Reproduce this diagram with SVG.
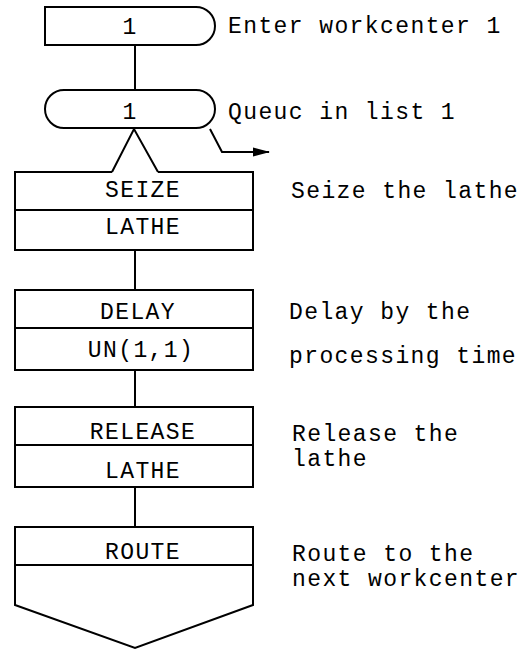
<svg xmlns="http://www.w3.org/2000/svg" width="528" height="650" viewBox="0 0 528 650">
<style>
.s{fill:none;stroke:#000;stroke-width:2;stroke-linejoin:miter}
.b{fill:#fff;stroke:#000;stroke-width:2}
.t{font-family:"Liberation Mono","Courier New",monospace;font-size:23px;letter-spacing:1.4px;fill:#000}
.c{text-anchor:middle}
</style>
<defs>
<marker id="ah" markerWidth="17" markerHeight="10" refX="16" refY="5" orient="auto" markerUnits="userSpaceOnUse">
<path d="M0,0.5 L17,5 L0,9.5 Z" fill="#000"/>
</marker>
</defs>
<rect width="528" height="650" fill="#fff"/>
<g id="connectors">
<path class="s" d="M135,45 V90"/>
<path class="s" d="M112,172 L134,129 L158,172"/>
<path class="s" d="M210,129 L222,152 H269" marker-end="url(#ah)"/>
<path class="s" d="M135,250 V290"/>
<path class="s" d="M135,370 V407"/>
<path class="s" d="M135,487 V527"/>
</g>
<g id="enter">
<path class="b" d="M45,7 H196 A19,19 0 0 1 196,45 H45 Z"/>
<text class="t c" x="130" y="34">1</text>
<text class="t" x="228" y="33">Enter workcenter 1</text>
</g>
<g id="queue">
<path class="b" d="M64,90 H196 A19,19 0 0 1 196,128 H64 A19,19 0 0 1 64,90 Z"/>
<text class="t c" x="130" y="119">1</text>
<text class="t" x="228" y="119">Queuc in list 1</text>
</g>
<g id="seize">
<path class="s" d="M112,172 H15 V250 H253 V172 H158"/>
<path class="s" d="M15,210 H253"/>
<text class="t c" x="143" y="197">SEIZE</text>
<text class="t c" x="143" y="234">LATHE</text>
<text class="t" x="291" y="198">Seize the lathe</text>
</g>
<g id="delay">
<rect class="b" x="15" y="290" width="238" height="80"/>
<path class="s" d="M15,328 H253"/>
<text class="t c" x="138" y="319">DELAY</text>
<text class="t c" x="141" y="357">UN(1,1)</text>
<text class="t" x="289" y="319">Delay by the</text>
<text class="t" x="289" y="363">processing time</text>
</g>
<g id="release">
<rect class="b" x="15" y="407" width="238" height="80"/>
<path class="s" d="M15,445 H253"/>
<text class="t c" x="143" y="439">RELEASE</text>
<text class="t c" x="143" y="478">LATHE</text>
<text class="t" x="292" y="441">Release the</text>
<text class="t" x="292" y="466">lathe</text>
</g>
<g id="route">
<path class="b" d="M15,527 H253 V605 L135,648 L15,605 Z"/>
<path class="s" d="M15,565 H253"/>
<text class="t c" x="143" y="559">ROUTE</text>
<text class="t" x="292" y="561">Route to the</text>
<text class="t" x="292" y="586">next workcenter</text>
</g>
</svg>
